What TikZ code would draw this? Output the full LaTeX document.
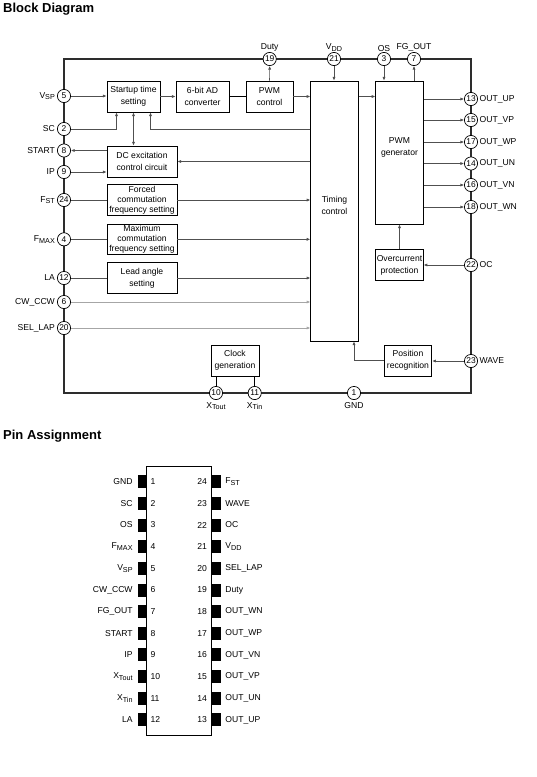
\documentclass[tikz,border=0pt]{standalone}
\usepackage{fontspec}
\setmainfont{Liberation Sans}
\usepackage{xcolor}
\usetikzlibrary{arrows.meta, positioning}
\definecolor{wireblack}{RGB}{45, 45, 45}
\definecolor{lightwire}{RGB}{80, 80, 80}
\newcommand{\subtxt}[2]{#1\raisebox{-.35ex}{\fontsize{7.2}{7.2}\selectfont #2}}

\begin{document}
\begin{tikzpicture}[
        x=1pt, y=-1pt,
        blockbox/.style={rectangle, draw=black, fill=white, line width=0.9pt, inner sep=0pt, align=center, font=\fontsize{8.6}{12}\selectfont},
        denseblock/.style={blockbox, font=\fontsize{8.6}{10}\selectfont},
        pinnode/.style={circle, draw=black, fill=white, line width=0.7pt, inner sep=0pt, minimum size=13.2pt, font=\fontsize{8.4}{8.4}\selectfont},
        pintext/.style={inner sep=0pt, font=\fontsize{8.6}{10}\selectfont},
        frameline/.style={line width=1.1pt, color=wireblack},
        arrow/.style={-{Latex[length=3.6pt, width=3.2pt]}, line width=0.7pt, color=lightwire},
        palearrow/.style={arrow, line width=1pt, color=gray!70},
        wire/.style={line width=0.7pt, color=lightwire},
        padbox/.style={rectangle, fill=black, inner sep=0pt, minimum width=8.6pt, minimum height=13pt},
        heading/.style={inner sep=0pt, anchor=west, font=\fontsize{13}{14}\selectfont\bfseries}
    ]
        \useasboundingbox (0,0) rectangle (537,777);

        \node[heading] (blocktitle) at (3,9) {Block Diagram};
        \node[heading] (pintitle) at (3,436.5) {Pin Assignment};

        % outer frame of the IC
        \draw[frameline] (64,59) rectangle (471,393);

        % blocks
        \node[blockbox, minimum width=53pt, minimum height=31pt] (startup) at (133.5,96.5) {Startup time\\setting};
        \node[blockbox, minimum width=53pt, minimum height=31pt] (adconv) at (202.5,96.5) {6-bit AD\\converter};
        \node[blockbox, minimum width=47pt, minimum height=31pt] (pwmctrl) at (269.5,96.5) {PWM\\control};
        \node[blockbox, minimum width=70pt, minimum height=31pt] (dcexc) at (142,161.5) {DC excitation\\control circuit};
        \node[denseblock, minimum width=70pt, minimum height=30.5pt] (forced) at (142,200) {Forced\\commutation\\frequency setting};
        \node[denseblock, minimum width=70pt, minimum height=30.5pt] (maxcomm) at (142,239.3) {Maximum\\commutation\\frequency setting};
        \node[blockbox, minimum width=70pt, minimum height=30.5pt] (leadangle) at (142,278) {Lead angle\\setting};
        \node[blockbox, minimum width=48pt, minimum height=31pt] (clockgen) at (235,360.5) {Clock\\generation};
        \node[blockbox, minimum width=47.5pt, minimum height=260pt] (timing) at (334.5,211) {Timing\\control\\\mbox{}};
        \node[blockbox, minimum width=47.5pt, minimum height=143pt] (pwmgen) at (399.5,152.5) {PWM\\generator\\\mbox{}};
        \node[blockbox, minimum width=47.5pt, minimum height=30.5pt] (overcur) at (399.5,265) {Overcurrent\\protection};
        \node[blockbox, minimum width=47.5pt, minimum height=31pt] (position) at (408,360.5) {Position\\recognition};

        % pins on the frame
        \foreach \n/\y/\t in {5/96/{\subtxt{V}{SP}}, 2/129/SC, 8/150.5/START, 9/172/IP, 24/200/{\subtxt{F}{ST}}, 4/239.3/{\subtxt{F}{MAX}}, 12/278/LA, 6/302/CW\_CCW, 20/328/SEL\_LAP} {
            \node[pinnode] (pin\n) at (64,\y) {\n};
            \node[pintext, left=2pt of pin\n] (lab\n) {\t};
        }
        \foreach \n/\y/\t in {13/99/OUT\_UP, 15/120/OUT\_VP, 17/142/OUT\_WP, 14/163.5/OUT\_UN, 16/185/OUT\_VN, 18/207/OUT\_WN, 22/265/OC, 23/361/WAVE} {
            \node[pinnode] (pin\n) at (471,\y) {\n};
            \node[pintext, right=1.5pt of pin\n] (lab\n) {\t};
        }
        \foreach \n/\x/\t in {19/269.7/Duty, 21/334/{\subtxt{V}{DD}}, 3/384/OS, 7/414/FG\_OUT} {
            \node[pinnode] (pin\n) at (\x,59) {\n};
            \node[pintext, above=0.5pt of pin\n] (lab\n) {\t};
        }
        \foreach \n/\x/\t in {10/216/{\subtxt{X}{Tout}}, 11/254.7/{\subtxt{X}{Tin}}, 1/354/GND} {
            \node[pinnode] (pin\n) at (\x,393) {\n};
            \node[pintext, below=2pt of pin\n] (lab\n) {\t};
        }

        % left side
        \draw[arrow] (pin5) -- (pin5 -| startup.west);
        \draw[arrow] (pin2) -| ([xshift=-17pt]startup.south);
        \draw[arrow] (dcexc.west |- pin8) -- (pin8);
        \draw[arrow] (pin9) -- (pin9 -| dcexc.west);
        \draw[wire] (pin24) -- (forced);
        \draw[wire] (pin4) -- (maxcomm.west |- pin4);
        \draw[wire] (pin12) -- (leadangle);
        \draw[palearrow] (pin6) -- (pin6 -| timing.west);
        \draw[palearrow] (pin20) -- (pin20 -| timing.west);

        % between blocks
        \draw[arrow] (startup) -- (adconv);
        \draw[wire, color=black] (adconv) -- (pwmctrl);
        \draw[arrow] (pwmctrl.east) -- (pwmctrl.east -| timing.west);
        \draw[arrow] (pwmctrl.east -| timing.east) -- (pwmctrl.east -| pwmgen.west);
        \draw[arrow] (pwmctrl) -- (pin19);
        \draw[arrow, {Latex[length=3.6pt, width=3.2pt]}-{Latex[length=3.6pt, width=3.2pt]}] (startup.south) -- (startup.south |- dcexc.north);
        \draw[arrow] (timing.west |- pin2) -| ([xshift=17pt]startup.south);
        \draw[arrow] (timing.west |- dcexc.east) -- (dcexc.east);
        \draw[arrow] (forced) -- (forced -| timing.west);
        \draw[arrow] (maxcomm) -- (maxcomm -| timing.west);
        \draw[arrow] (leadangle) -- (leadangle -| timing.west);

        % top and right side
        \draw[arrow] (pin21) -- (pin21 |- timing.north);
        \draw[arrow] (pin3) -- (pin3 |- pwmgen.north);
        \draw[arrow] (pin7 |- pwmgen.north) -- (pin7);
        \foreach \n in {13,15,17,14,16,18} {
            \draw[arrow] (pwmgen.east |- pin\n) -- (pin\n);
        }
        \draw[arrow] (overcur) -- (pwmgen);
        \draw[arrow] (pin22) -- (overcur);
        \draw[arrow] (pin23) -- (position.east |- pin23);

        % bottom side
        \draw[arrow] (position.west) -| ([xshift=19.5pt]timing.south);
        \draw[wire, color=black] (pin10) -- (pin10 |- clockgen.south);
        \draw[wire, color=black] (pin11) -- (pin11 |- clockgen.south);

        % pin assignment
        \node[rectangle, draw=black, line width=0.9pt, minimum width=64.5pt, minimum height=269pt, inner sep=0pt] (chip) at (179,600.5) {};
        \foreach \n/\t [evaluate=\n as \y using {481.7+21.66*(\n-1)}] in {1/GND, 2/SC, 3/OS, 4/{\subtxt{F}{MAX}}, 5/{\subtxt{V}{SP}}, 6/CW\_CCW, 7/FG\_OUT, 8/START, 9/IP, 10/{\subtxt{X}{Tout}}, 11/{\subtxt{X}{Tin}}, 12/LA} {
            \node[padbox, left=0pt of chip.west |- {0,\y}] (padl\n) {};
            \node[pintext, left=4.5pt of padl\n] (namel\n) {\t};
            \node[pintext, right=4pt of chip.west |- {0,\y}] (numl\n) {\n};
        }
        \foreach \n/\t [evaluate=\n as \y using {481.7+21.66*(24-\n)}] in {24/{\subtxt{F}{ST}}, 23/WAVE, 22/OC, 21/{\subtxt{V}{DD}}, 20/SEL\_LAP, 19/Duty, 18/OUT\_WN, 17/OUT\_WP, 16/OUT\_VN, 15/OUT\_VP, 14/OUT\_UN, 13/OUT\_UP} {
            \node[padbox, right=0pt of chip.east |- {0,\y}] (padr\n) {};
            \node[pintext, right=4.5pt of padr\n] (namer\n) {\t};
            \node[pintext, left=4.5pt of chip.east |- {0,\y}] (numr\n) {\n};
        }
    \end{tikzpicture}
\end{document}
